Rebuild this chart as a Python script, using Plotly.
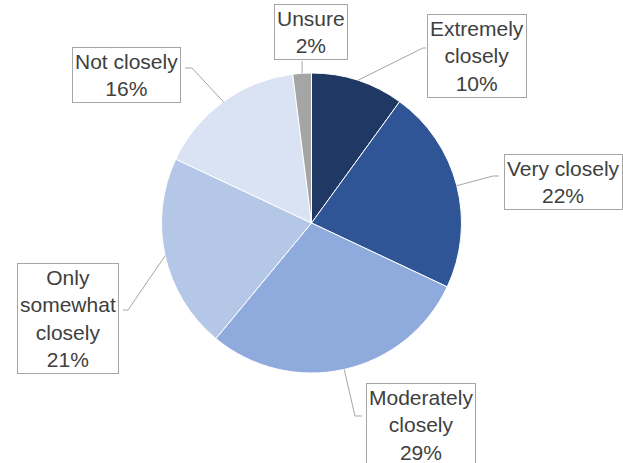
import math
import plotly.graph_objects as go

# ---- data ----
categories = ["Extremely<br>closely", "Very closely", "Moderately<br>closely",
              "Only<br>somewhat<br>closely", "Not closely", "Unsure"]
values = [10, 22, 29, 21, 16, 2]
colors = ["#1F3864", "#2F5597", "#8FAADC", "#B4C7E7", "#DAE3F3", "#A5A5A5"]

# ---- layout constants (pixels) ----
W, H = 623, 463
CX, CY, R = 311.5, 223, 150
# label box centres
label_pos = [(477, 56), (563, 182), (421, 425), (68, 318), (126, 75), (311, 32)]
# leader line: elbow point and box attach point
leader = [
    [(423, 48), (426, 48)],
    [(493, 176), (499, 176)],
    [(355, 416), (362, 416)],
    [(128, 310), (123, 310)],
    [(192, 68), (185, 68)],
    [(None, 61)],
]

def px(x):
    return x / W

def py(y):
    return 1 - y / H

fig = go.Figure(go.Pie(
    labels=[c.replace("<br>", " ") for c in categories],
    values=values,
    sort=False,
    direction="clockwise",
    rotation=0,
    marker=dict(colors=colors, line=dict(color="#FFFFFF", width=1)),
    textinfo="none",
    hoverinfo="label+percent",
    showlegend=False,
    domain=dict(x=[px(CX - R), px(CX + R)], y=[py(CY + R), py(CY - R)]),
))

total = sum(values)
shapes = []
annotations = []
cum = 0
for i, v in enumerate(values):
    mid = (cum + v / 2) / total * 2 * math.pi
    cum += v
    ex = CX + R * math.sin(mid)
    ey = CY - R * math.cos(mid)
    pts = [(ex, ey)]
    for (lx, ly) in leader[i]:
        pts.append((ex if lx is None else lx, ly))
    path = "M " + " L ".join(f"{px(x):.5f},{py(y):.5f}" for x, y in pts)
    shapes.append(dict(type="path", xref="paper", yref="paper", path=path,
                       line=dict(color="#A6A6A6", width=1)))
    pct = round(v / total * 100)
    annotations.append(dict(
        x=px(label_pos[i][0]), y=py(label_pos[i][1]), xref="paper", yref="paper",
        xanchor="center", yanchor="middle", showarrow=False,
        text=f"{categories[i]}<br>{pct}%", align="center",
        font=dict(family="Liberation Sans, Arial, sans-serif", size=21, color="#404040"),
        bgcolor="#FFFFFF", bordercolor="#A6A6A6", borderwidth=1, borderpad=2,
    ))

fig.update_layout(
    width=W, height=H,
    margin=dict(l=0, r=0, t=0, b=0),
    paper_bgcolor="#FFFFFF", plot_bgcolor="#FFFFFF",
    shapes=shapes, annotations=annotations,
)
fig.write_html("out.html", config={"displayModeBar": False},
               post_script="document.body.style.margin='0';document.body.style.overflow='hidden';")
